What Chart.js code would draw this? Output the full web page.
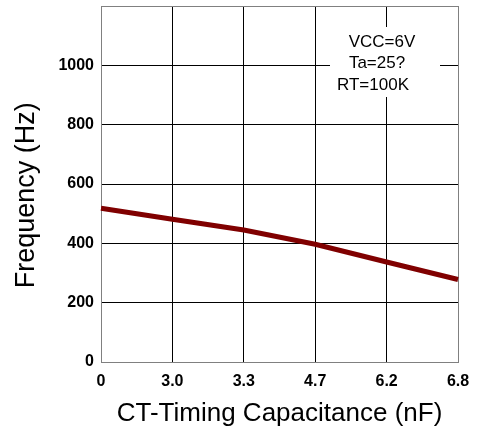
<!DOCTYPE html>
<html lang="en">
<head>
<meta charset="UTF-8">
<title>Frequency vs CT</title>
<style>
  body { margin: 0; background: #fff; }
  #wrap { width: 477px; height: 435px; }
</style>
</head>
<body>
<script src="https://cdn.jsdelivr.net/npm/chart.js@4/dist/chart.umd.min.js"></script>
<div id="wrap"><canvas id="myChart" width="477" height="435"></canvas></div>
<script>
  // values
  var capLabels = ['0', '3.0', '3.3', '4.7', '6.2', '6.8'];
  var frequency = [518, 481, 445, 397, 337, 278];
  var noteLines = ['VCC=6V', 'Ta=25?', 'RT=100K'];

  var fontFam = '"Liberation Sans", Arial, sans-serif';

  // white box with the test conditions, top right
  var notePlugin = {
    id: 'note',
    afterDatasetsDraw: function (chart) {
      var c = chart.ctx;
      var shift = [4, -1, -5];
      c.save();
      c.fillStyle = '#fff';
      c.fillRect(330, 27, 110, 70);
      c.fillStyle = '#000';
      c.font = '17px ' + fontFam;
      c.textAlign = 'center';
      c.textBaseline = 'middle';
      noteLines.forEach(function (t, i) {
        c.fillText(t, 378 + shift[i], 42 + i * 21.5);
      });
      c.restore();
    }
  };

  var tickFont = { family: fontFam, size: 16, weight: 'bold' };

  var config = {
    type: 'line',
    data: {
      labels: capLabels,
      datasets: [{
        data: frequency,
        borderColor: '#800000',
        borderWidth: 5,
        pointRadius: 0,
        tension: 0,
        fill: false
      }]
    },
    options: {
      responsive: false,
      animation: false,
      layout: { padding: { top: 6, right: 19, left: 0, bottom: 0 } },
      plugins: { legend: { display: false }, tooltip: { enabled: false } },
      scales: {
        x: {
          type: 'category',
          offset: false,
          grid: {
            drawTicks: false,
            color: function (ctx) { return ctx.index === capLabels.length - 1 ? '#808080' : '#000000'; }
          },
          border: { color: '#808080', width: 1 },
          ticks: { color: '#000', font: tickFont, padding: 10, maxRotation: 0 },
          title: {
            display: true, text: 'CT-Timing Capacitance (nF)', color: '#000',
            font: { family: fontFam, size: 26 }, padding: { top: 0, bottom: 6 }
          },
          afterFit: function (s) {
            s.height = 73;
            s.paddingLeft = 0;
            s.paddingRight = 0;
          }
        },
        y: {
          min: 0,
          max: 1200,
          grid: {
            drawTicks: false,
            color: function (ctx) { return ctx.tick && ctx.tick.value === 1200 ? '#808080' : '#000000'; }
          },
          border: { color: '#808080', width: 1 },
          ticks: {
            stepSize: 200,
            color: '#000',
            font: tickFont,
            padding: 7,
            callback: function (v) { return v === 1200 ? '' : v; }
          },
          title: {
            display: true, text: 'Frequency (Hz)   ', color: '#000',
            font: { family: fontFam, size: 27 }, padding: { top: 10, bottom: 0 }
          },
          afterFit: function (s) {
            s.width = 101;
            s.paddingTop = 0;
            s.paddingBottom = 0;
          }
        }
      }
    },
    plugins: [notePlugin]
  };

  var ctx = document.getElementById('myChart').getContext('2d');
  var chart = new Chart(ctx, config);
</script>
</body>
</html>
